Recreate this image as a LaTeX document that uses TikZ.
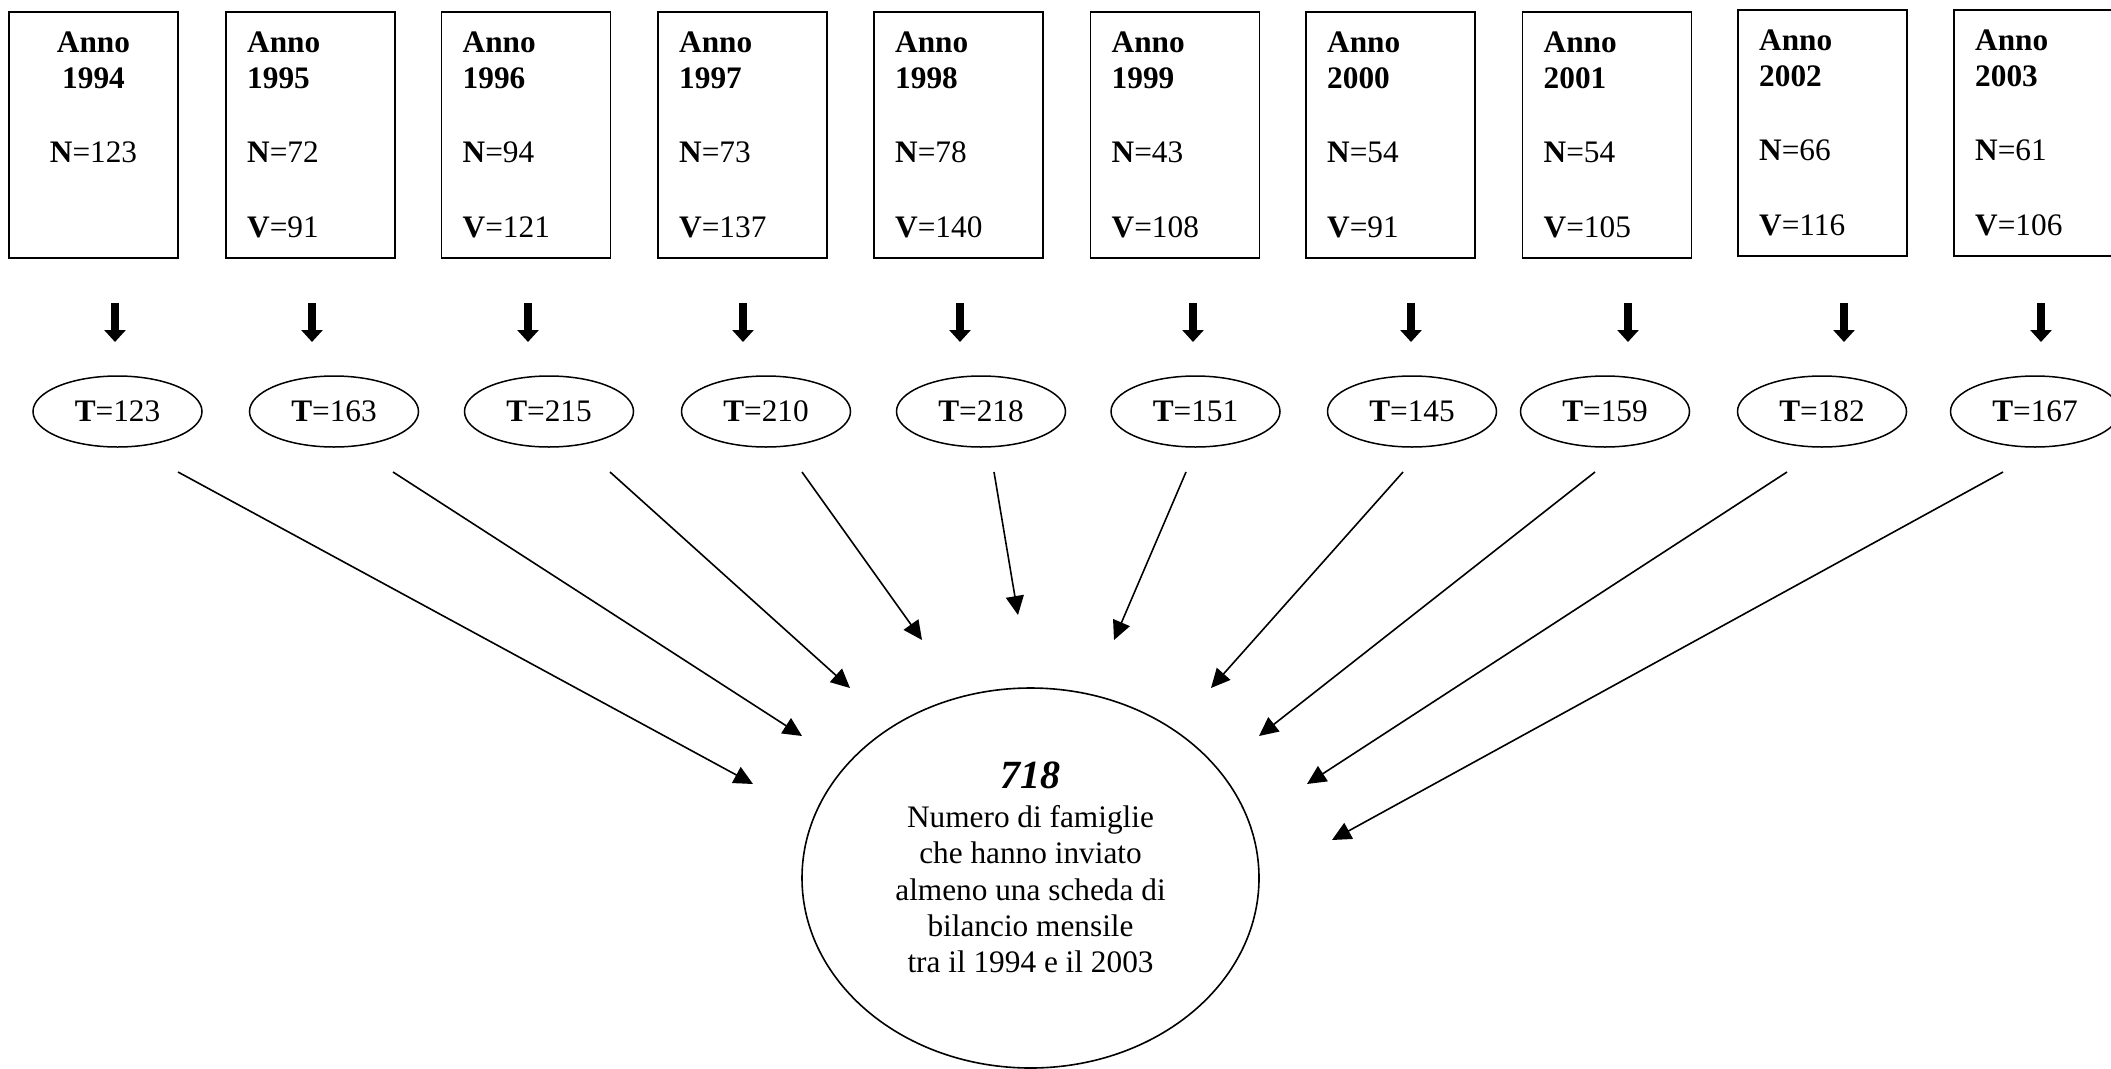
\documentclass[tikz,border=0pt]{standalone}
\usepackage{fontspec}
\setmainfont{Liberation Serif}
\usetikzlibrary{shapes.geometric,arrows.meta}
\newcommand\dfs{\fontsize{31.3}{36}\selectfont}
\begin{document}
\begin{tikzpicture}[x=1pt,y=-1pt,
  yearbox/.style={draw, line width=1.8pt, rectangle, inner sep=0pt, minimum width=169pt, minimum height=246pt},
  txt/.style={font=\dfs, inner sep=0pt},
  tell/.style={draw, ellipse, line width=1.5pt, minimum width=169pt, minimum height=71pt, inner sep=0pt, font=\dfs},
  fatarrow/.style={line width=8pt, -{Triangle[width=21pt,length=12pt]}},
  longarrow/.style={line width=1.6pt, -{Triangle[width=18pt,length=19pt]}},
  bigell/.style={draw, ellipse, line width=1.6pt, minimum width=457pt, minimum height=380pt, inner sep=0pt}]
\useasboundingbox (0,0) rectangle (2111,1068);
\clip (0,0) rectangle (2111,1068);
\fill[white] (0,0) rectangle (2111,1068);

% year 1994 (centred text)
\node[yearbox] (box1) at (93.5,135) {};
\node[txt, anchor=base] (anno1) at (93.5,52) {\textbf{Anno}};
\node[txt, anchor=base] (yr1) at (93.5,88) {\textbf{1994}};
\node[txt, anchor=base] (n1) at (93.5,162) {\textbf{N}=123};
\coordinate (fa1) at (115,303);
\coordinate (fb1) at (115,342);
\draw[fatarrow] (fa1) -- (fb1);
\node[tell] (ell1) at (117.5,411.5) {\textbf{T}=123};
\coordinate (s1) at (178,472);
\coordinate (e1) at (753,784);
\draw[longarrow] (s1) -- (e1);

\foreach \i/\bx/\dy/\yr/\nv/\vv/\ax/\ex/\tv/\sx/\tx/\ty in {
 2/226/0/1995/72/91/312/334/163/393/802/736,
 3/441.5/0/1996/94/121/528/549/215/610/850/688,
 4/658/0/1997/73/137/743/766/210/802/922/640,
 5/874/0/1998/78/140/960/981/218/994/1018/615,
 6/1090.5/0/1999/43/108/1193/1195.5/151/1186/1114/640,
 7/1306/0/2000/54/91/1411/1412/145/1403/1211/688,
 8/1522.5/0/2001/54/105/1628/1605/159/1595/1259/736,
 9/1738/-2/2002/66/116/1844/1822/182/1787/1307/784,
 10/1954/-2/2003/61/106/2041/2035/167/2003/1332/840}
{
 \node[yearbox] (box\i) at (\bx+84.5,135+\dy) {};
 \node[txt, anchor=base west] (anno\i) at (\bx+21,52+\dy) {\textbf{Anno}};
 \node[txt, anchor=base west] (yr\i) at (\bx+21,88+\dy) {\textbf{\yr}};
 \node[txt, anchor=base west] (n\i) at (\bx+21,162+\dy) {\textbf{N}=\nv};
 \node[txt, anchor=base west] (v\i) at (\bx+21,237+\dy) {\textbf{V}=\vv};
 \coordinate (fa\i) at (\ax,303);
 \coordinate (fb\i) at (\ax,342);
 \draw[fatarrow] (fa\i) -- (fb\i);
 \node[tell] (ell\i) at (\ex,411.5) {\textbf{T}=\tv};
 \coordinate (s\i) at (\sx,472);
 \coordinate (e\i) at (\tx,\ty);
 \draw[longarrow] (s\i) -- (e\i);
}

% total
\node[bigell] (total) at (1030.5,878) {};
\node[inner sep=0pt, anchor=base, font=\fontsize{40}{44}\selectfont] (l1) at (1030.5,788) {\textbf{\textit{718}}};
\node[txt, anchor=base] (l2) at (1030.5,827) {Numero di famiglie};
\node[txt, anchor=base] (l3) at (1030.5,863.5) {che hanno inviato};
\node[txt, anchor=base] (l4) at (1030.5,900) {almeno una scheda di};
\node[txt, anchor=base] (l5) at (1030.5,936) {bilancio mensile};
\node[txt, anchor=base] (l6) at (1030.5,972) {tra il 1994 e il 2003};
\end{tikzpicture}
\end{document}
